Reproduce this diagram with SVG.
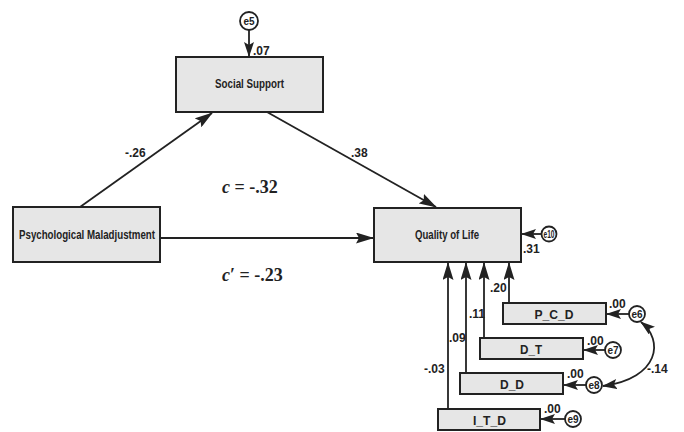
<svg xmlns="http://www.w3.org/2000/svg" width="684" height="432" viewBox="0 0 684 432">
<style>
.box{fill:#e6e6e6;stroke:#222;stroke-width:2}
.lbl{font-family:"Liberation Sans",Arial,sans-serif;font-weight:bold;fill:#222}
.nt{font-size:12.5px;text-anchor:middle}
.num{font-size:12px}
.err{fill:#fff;stroke:#222;stroke-width:1.8}
.et{font-size:10px;text-anchor:middle}
.ln{stroke:#222;stroke-width:1.8;fill:none}
.eq{font-family:"Liberation Serif","Times New Roman",serif;font-weight:bold;font-size:18px;fill:#222}
</style>
<defs>
<marker id="ah" viewBox="0 0 18 11" refX="17" refY="5.5" markerWidth="18" markerHeight="11" markerUnits="userSpaceOnUse" orient="auto-start-reverse">
<path d="M0,0 L18,5.5 L0,11 L3,5.5 z" fill="#222"/>
</marker>
<marker id="as" viewBox="0 0 15 10" refX="14" refY="5" markerWidth="15" markerHeight="10" markerUnits="userSpaceOnUse" orient="auto-start-reverse">
<path d="M0,0 L15,5 L0,10 L3,5 z" fill="#222"/>
</marker>
</defs>
<rect width="684" height="432" fill="#fff"/>
<g id="connectors">
<line class="ln" x1="80" y1="207" x2="212" y2="113" marker-end="url(#ah)"/>
<line class="ln" x1="267" y1="112" x2="436" y2="207" marker-end="url(#ah)"/>
<line class="ln" x1="160" y1="238" x2="373" y2="238" marker-end="url(#ah)"/>
<line class="ln" x1="249" y1="30" x2="249" y2="56" marker-end="url(#as)"/>
<line class="ln" x1="542" y1="234" x2="522" y2="234" marker-end="url(#as)"/>
<polyline class="ln" points="448,409 448,263" marker-end="url(#ah)"/>
<polyline class="ln" points="466,373 466,263" marker-end="url(#ah)"/>
<polyline class="ln" points="484,338 484,263" marker-end="url(#ah)"/>
<polyline class="ln" points="509,303 509,263" marker-end="url(#ah)"/>
<line class="ln" x1="629" y1="314" x2="607" y2="314" marker-end="url(#as)"/>
<line class="ln" x1="605" y1="350" x2="584" y2="350" marker-end="url(#as)"/>
<line class="ln" x1="586" y1="385" x2="564" y2="385" marker-end="url(#as)"/>
<line class="ln" x1="565" y1="419" x2="541" y2="419" marker-end="url(#as)"/>
<path class="ln" d="M641,322 C664,340 660,378 603,386" marker-start="url(#as)" marker-end="url(#as)"/>
<text class="lbl num" x="125" y="157">-.26</text>
<text class="lbl num" x="351" y="157">.38</text>
<text class="lbl num" x="253" y="55">.07</text>
<text class="lbl num" x="523" y="253">.31</text>
<text class="lbl num" x="490" y="292">.20</text>
<text class="lbl num" x="469" y="318">.11</text>
<text class="lbl num" x="449" y="342">.09</text>
<text class="lbl num" x="424" y="373">-.03</text>
<text class="lbl num" x="609" y="308">.00</text>
<text class="lbl num" x="587" y="345">.00</text>
<text class="lbl num" x="567" y="378">.00</text>
<text class="lbl num" x="544" y="413">.00</text>
<text class="lbl num" x="647" y="373">-.14</text>
<text class="eq" x="222" y="193"><tspan font-style="italic">c</tspan> = -.32</text>
<text class="eq" x="222" y="281"><tspan font-style="italic">c</tspan>′ = -.23</text>
</g>
<g id="e5"><circle class="err" cx="249" cy="21" r="9"/><text class="lbl et" x="249" y="24.5">e5</text></g>
<g id="e10"><circle class="err" cx="549" cy="234" r="7.5"/><text class="lbl et" x="549" y="237.5" textLength="11" lengthAdjust="spacingAndGlyphs">e10</text></g>
<g id="e6"><circle class="err" cx="637" cy="314" r="8"/><text class="lbl et" x="637" y="317.5">e6</text></g>
<g id="e7"><circle class="err" cx="613" cy="350" r="8"/><text class="lbl et" x="613" y="353.5">e7</text></g>
<g id="e8"><circle class="err" cx="594" cy="385" r="8"/><text class="lbl et" x="594" y="388.5">e8</text></g>
<g id="e9"><circle class="err" cx="573" cy="419" r="8"/><text class="lbl et" x="573" y="422.5">e9</text></g>
<g id="social-support"><rect class="box" x="176" y="57" width="147" height="55"/><text class="lbl nt" x="249.5" y="88" textLength="69" lengthAdjust="spacingAndGlyphs">Social Support</text></g>
<g id="psych"><rect class="box" x="13" y="207" width="147" height="55"/><text class="lbl nt" x="87" y="239" textLength="136" lengthAdjust="spacingAndGlyphs">Psychological Maladjustment</text></g>
<g id="qol"><rect class="box" x="374" y="208" width="147" height="54"/><text class="lbl nt" x="447" y="239" textLength="64" lengthAdjust="spacingAndGlyphs">Quality of Life</text></g>
<g id="pcd"><rect class="box" x="503" y="303" width="103" height="21"/><text class="lbl nt" x="554" y="319" font-size="13.5px" textLength="39" lengthAdjust="spacingAndGlyphs">P_C_D</text></g>
<g id="dt"><rect class="box" x="480" y="338" width="103" height="21"/><text class="lbl nt" x="531" y="354" font-size="13.5px" textLength="22" lengthAdjust="spacingAndGlyphs">D_T</text></g>
<g id="dd"><rect class="box" x="460" y="373" width="103" height="21"/><text class="lbl nt" x="512" y="389" font-size="13.5px" textLength="24" lengthAdjust="spacingAndGlyphs">D_D</text></g>
<g id="itd"><rect class="box" x="438" y="409" width="102" height="21"/><text class="lbl nt" x="489.5" y="425" font-size="13.5px" textLength="33" lengthAdjust="spacingAndGlyphs">I_T_D</text></g>
</svg>
